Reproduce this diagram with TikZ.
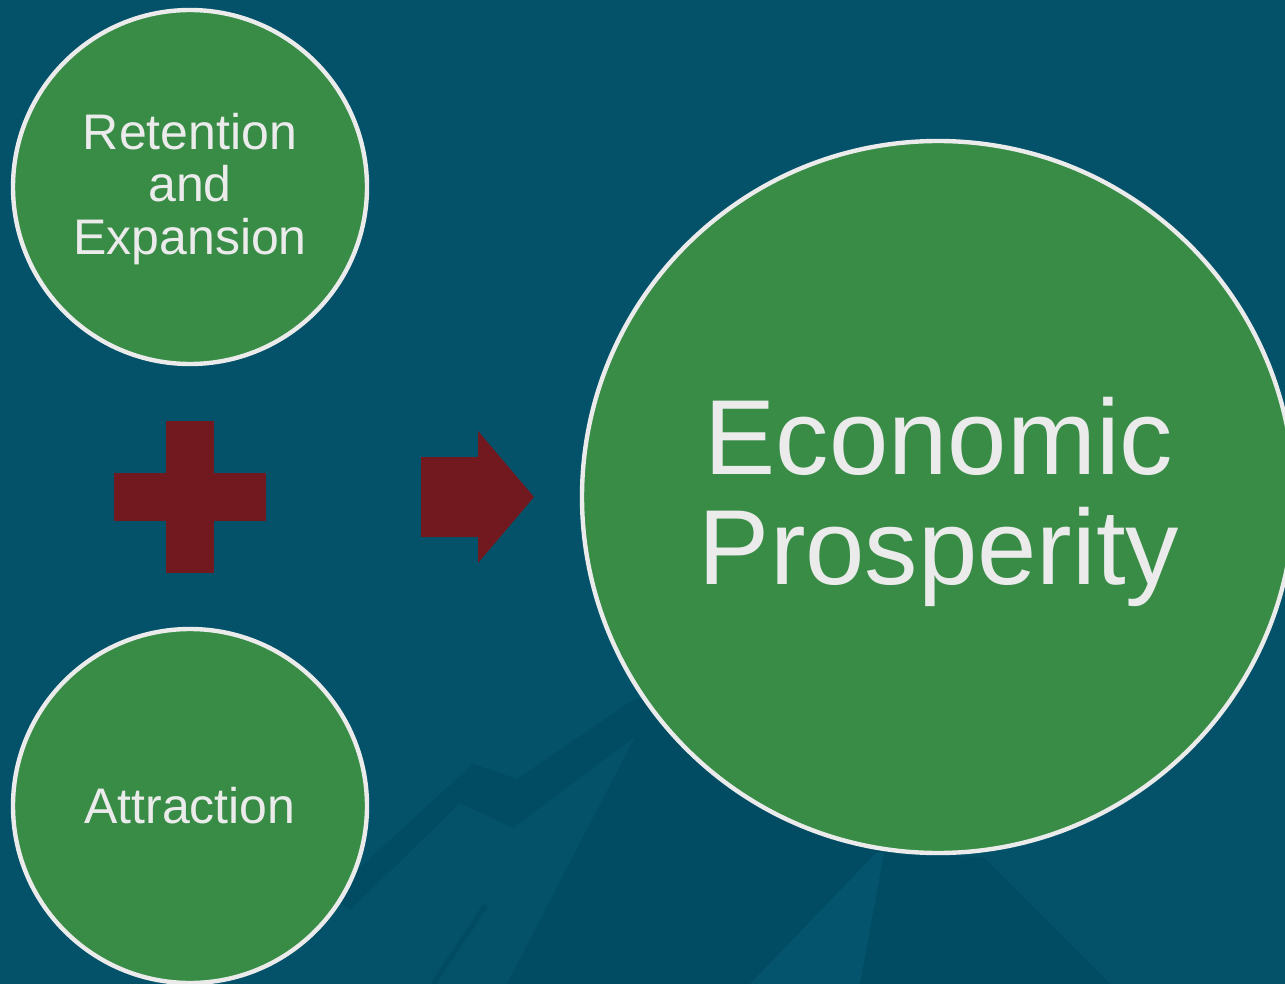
\documentclass[tikz,border=0pt]{standalone}
\usepackage{fontspec}
\setmainfont{Liberation Sans}
\definecolor{bgblue}{RGB}{3,82,106}
\definecolor{mtdark}{RGB}{1,76,98}
\definecolor{mtlight}{RGB}{3,84,108}
\definecolor{bubgreen}{RGB}{56,140,70}
\definecolor{bubline}{RGB}{235,235,235}
\definecolor{signred}{RGB}{114,25,31}
\tikzset{
  bubble/.style={circle, draw=bubline, line width=3.3pt, fill=bubgreen, inner sep=0pt, outer sep=0pt},
  smallbub/.style={bubble, minimum size=265.5pt},
  bigbub/.style={bubble, minimum size=534pt},
  smalltxt/.style={text=bubline, anchor=base, inner sep=0pt, font=\fontsize{37.5pt}{39pt}\selectfont},
  bigtxt/.style={text=bubline, anchor=base, inner sep=0pt, font=\fontsize{80pt}{82pt}\selectfont},
  sign/.style={fill=signred, draw=none}
}
\begin{document}
\begin{tikzpicture}[x=0.75pt, y=-0.75pt]
\useasboundingbox (0,0) rectangle (1285,984);
\clip (0,0) rectangle (1285,984);
% background
\fill[bgblue] (0,0) rectangle (1285,984);
% faint mountains
\fill[mtdark] (507,984) -- (637,733) -- (700,690) -- (900,855) -- (983,857) -- (1110,984) -- cycle;
\fill[mtlight] (750,984) -- (876,853) -- (884,853) -- (860,984) -- cycle;
\fill[mtdark] (330,895) -- (473,764) -- (517,779) -- (633,700) -- (680,690)
  -- (660,722) -- (637,735) -- (513,828) -- (460,803) -- (350,910) -- cycle;
\draw[mtdark, line width=4pt] (433,984) -- (486,905);
% bubbles
\node[smallbub] (ret) at (190,187) {};
\node[smallbub] (att) at (190,806) {};
\node[bigbub] (eco) at (938,497) {};
% texts
\node[smalltxt] (ret1) at (190,150) {Retention};
\node[smalltxt] (ret2) at (190,202) {and};
\node[smalltxt] (ret3) at (190,255) {Expansion};
\node[smalltxt] (att1) at (190,823) {Attraction};
\node[bigtxt] (eco1) at (939,474) {Economic};
\node[bigtxt] (eco2) at (939,584) {Prosperity};
% plus sign
\fill[sign] (166,421) rectangle (214,573);
\fill[sign] (114,473) rectangle (266,521);
% arrow
\fill[sign] (421,457) -- (478,457) -- (478,431) -- (534,497) -- (478,563) -- (478,537) -- (421,537) -- cycle;
\end{tikzpicture}
\end{document}
